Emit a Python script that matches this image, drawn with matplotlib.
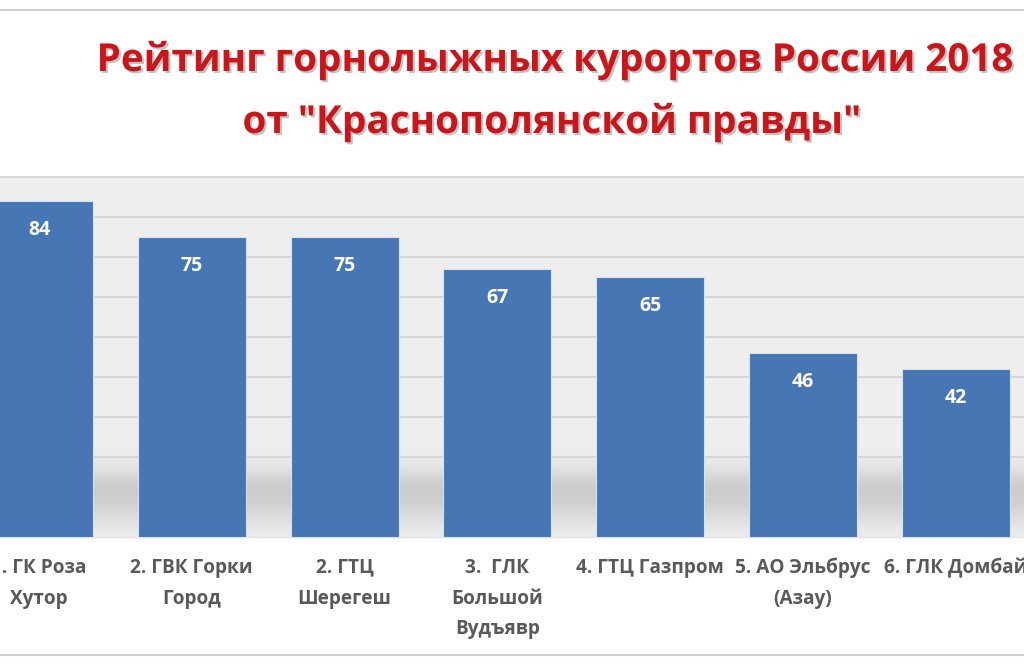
import matplotlib.pyplot as plt
import matplotlib.patheffects as pe
import numpy as np

# data
categories = ['1. ГК Роза\nХутор', '2. ГВК Горки\nГород', '2. ГТЦ\nШерегеш',
              '3.  ГЛК\nБольшой\nВудъявр', '4. ГТЦ Газпром',
              '5. АО Эльбрус\n(Азау)', '6. ГЛК Домбай']
values = [84, 75, 75, 67, 65, 46, 42]
title_lines = ['Рейтинг горнолыжных курортов России 2018', 'от "Краснополянской правды"']
grid_values = [10, 20, 30, 40, 50, 60, 70, 80, 90]

plt.rcParams['font.family'] = ['Open Sans', 'DejaVu Sans']

fig = plt.figure(figsize=(10.24, 6.65), dpi=100)
ax = fig.add_axes([0, 0, 1, 1])
ax.set_xlim(-0.255, 6.446)
ax.set_ylim(-32, 134.25)
ax.axis('off')

x = np.arange(len(values))

# back wall and soft floor shadow
ax.axhspan(0, 90, color='#eeeeee', zorder=0)
floor = np.array([0.92, 0.88, 0.84, 0.80, 0.79, 0.83, 0.89, 0.925, 0.933]).reshape(-1, 1)
ax.imshow(floor, cmap='gray', vmin=0, vmax=1, aspect='auto', interpolation='bicubic',
          extent=(-0.255, 6.446, 0, 24), zorder=0.5, origin='lower')
for g in grid_values:
    ax.axhline(g, color='#d2d2d2', lw=1.2, zorder=1)
ax.axhline(131.75, color='#d0d0d0', lw=1.5, zorder=1)
ax.axhline(-29.5, color='#d0d0d0', lw=1.5, zorder=1)
ax.axhline(0, color='#e4e4e4', lw=1, zorder=1)

bars = ax.bar(x, values, width=0.707, color='#4677b4', edgecolor='#d6e2f0',
              linewidth=0.8, zorder=2)

for xi, v in zip(x, values):
    ax.text(xi, v - 7.3, str(v), ha='center', va='center', color='white',
            fontsize=14, fontweight='bold', zorder=3)

for xi, lab in zip(x, categories):
    ax.text(xi, -5.2, lab, ha='center', va='top', color='#595959',
            fontsize=13.7, fontweight='bold', linespacing=1.72, zorder=3)

shadow = [pe.SimplePatchShadow(offset=(1.5, -1.5), shadow_rgbFace='#888888', alpha=0.5),
          pe.Normal()]
fig.text(0.542, 1 - 60 / 665, title_lines[0], ha='center', va='center',
         color='#c8161b', fontsize=27.8, fontweight='bold', path_effects=shadow)
fig.text(0.539, 1 - 122 / 665, title_lines[1], ha='center', va='center',
         color='#c8161b', fontsize=27.8, fontweight='bold', path_effects=shadow)

fig.savefig('out.png', dpi=100, facecolor='white')
